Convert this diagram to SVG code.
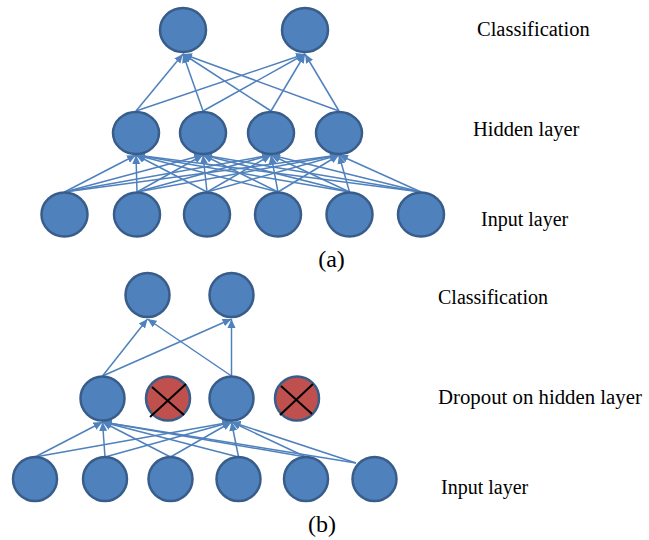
<svg xmlns="http://www.w3.org/2000/svg" width="649" height="540" viewBox="0 0 649 540">
<defs>
<style>
.n{fill:#4f81bd;stroke:#385d8a;stroke-width:2.5}
.d{fill:#c0504d;stroke:#385d8a;stroke-width:2.5}
.x{stroke:#000;stroke-width:2}
.e{stroke:#4f81bd;stroke-width:1.5;fill:none;marker-end:url(#ah)}
.t{font-family:"Liberation Serif","Times New Roman",serif;font-size:20px;fill:#000}
.c{font-size:24px}
</style>
<marker id="ah" markerUnits="userSpaceOnUse" markerWidth="10" markerHeight="10" viewBox="0 0 10 10" refX="9" refY="5" orient="auto">
<path d="M0,1 L9,5 L0,9 Z" fill="#4f81bd"/>
</marker>
</defs>
<rect width="649" height="540" fill="#fff"/>
<g id="connectors">
<line class="e" x1="64.5" y1="192" x2="136" y2="155"/>
<line class="e" x1="64.5" y1="192" x2="203" y2="155"/>
<line class="e" x1="64.5" y1="192" x2="271" y2="155"/>
<line class="e" x1="64.5" y1="192" x2="339" y2="155"/>
<line class="e" x1="137" y1="192" x2="136" y2="155"/>
<line class="e" x1="137" y1="192" x2="203" y2="155"/>
<line class="e" x1="137" y1="192" x2="271" y2="155"/>
<line class="e" x1="137" y1="192" x2="339" y2="155"/>
<line class="e" x1="207" y1="192" x2="136" y2="155"/>
<line class="e" x1="207" y1="192" x2="203" y2="155"/>
<line class="e" x1="207" y1="192" x2="271" y2="155"/>
<line class="e" x1="207" y1="192" x2="339" y2="155"/>
<line class="e" x1="278" y1="192" x2="136" y2="155"/>
<line class="e" x1="278" y1="192" x2="203" y2="155"/>
<line class="e" x1="278" y1="192" x2="271" y2="155"/>
<line class="e" x1="278" y1="192" x2="339" y2="155"/>
<line class="e" x1="349.5" y1="192" x2="136" y2="155"/>
<line class="e" x1="349.5" y1="192" x2="203" y2="155"/>
<line class="e" x1="349.5" y1="192" x2="271" y2="155"/>
<line class="e" x1="349.5" y1="192" x2="339" y2="155"/>
<line class="e" x1="421" y1="192" x2="136" y2="155"/>
<line class="e" x1="421" y1="192" x2="203" y2="155"/>
<line class="e" x1="421" y1="192" x2="271" y2="155"/>
<line class="e" x1="421" y1="192" x2="339" y2="155"/>
<line class="e" x1="136" y1="111" x2="183" y2="54"/>
<line class="e" x1="136" y1="111" x2="305" y2="54"/>
<line class="e" x1="203" y1="111" x2="183" y2="54"/>
<line class="e" x1="203" y1="111" x2="305" y2="54"/>
<line class="e" x1="271" y1="111" x2="183" y2="54"/>
<line class="e" x1="271" y1="111" x2="305" y2="54"/>
<line class="e" x1="339" y1="111" x2="183" y2="54"/>
<line class="e" x1="339" y1="111" x2="305" y2="54"/>
<line class="e" x1="35" y1="457" x2="102.5" y2="422"/>
<line class="e" x1="35" y1="457" x2="231.5" y2="422"/>
<line class="e" x1="105" y1="457" x2="102.5" y2="422"/>
<line class="e" x1="105" y1="457" x2="231.5" y2="422"/>
<line class="e" x1="170.5" y1="457" x2="102.5" y2="422"/>
<line class="e" x1="170.5" y1="457" x2="231.5" y2="422"/>
<line class="e" x1="238.5" y1="457" x2="102.5" y2="422"/>
<line class="e" x1="238.5" y1="457" x2="231.5" y2="422"/>
<line class="e" x1="306" y1="457" x2="102.5" y2="422"/>
<line class="e" x1="306" y1="457" x2="231.5" y2="422"/>
<line class="e" x1="356" y1="463" x2="102.5" y2="422"/>
<line class="e" x1="356" y1="463" x2="231.5" y2="422"/>
<line class="e" x1="102.5" y1="376" x2="147.5" y2="319"/>
<line class="e" x1="102.5" y1="376" x2="231.5" y2="319"/>
<line class="e" x1="231.5" y1="376" x2="147.5" y2="319"/>
<line class="e" x1="231.5" y1="376" x2="231.5" y2="319"/>
</g>
<g id="a-out1"><ellipse class="n" cx="183" cy="30" rx="23" ry="22"/></g>
<g id="a-out2"><ellipse class="n" cx="305" cy="30" rx="23" ry="22"/></g>
<g id="a-h1"><ellipse class="n" cx="136" cy="133" rx="23" ry="21"/></g>
<g id="a-h2"><ellipse class="n" cx="203" cy="133" rx="23" ry="21"/></g>
<g id="a-h3"><ellipse class="n" cx="271" cy="133" rx="23" ry="21"/></g>
<g id="a-h4"><ellipse class="n" cx="339" cy="133" rx="23" ry="21"/></g>
<g id="a-i1"><ellipse class="n" cx="64.5" cy="214.5" rx="23" ry="22"/></g>
<g id="a-i2"><ellipse class="n" cx="137" cy="214.5" rx="23" ry="22"/></g>
<g id="a-i3"><ellipse class="n" cx="207" cy="214.5" rx="23" ry="22"/></g>
<g id="a-i4"><ellipse class="n" cx="278" cy="214.5" rx="23" ry="22"/></g>
<g id="a-i5"><ellipse class="n" cx="349.5" cy="214.5" rx="23" ry="22"/></g>
<g id="a-i6"><ellipse class="n" cx="421" cy="214.5" rx="23" ry="22"/></g>
<g id="b-out1"><circle class="n" cx="147.5" cy="295" r="22"/></g>
<g id="b-out2"><circle class="n" cx="231.5" cy="295" r="22"/></g>
<g id="b-h1"><circle class="n" cx="102.5" cy="398.5" r="22"/></g>
<g id="b-h2"><circle class="d" cx="168" cy="398.5" r="22"/><line class="x" x1="150" y1="417" x2="186" y2="384"/><line class="x" x1="152" y1="387" x2="184" y2="415"/></g>
<g id="b-h3"><circle class="n" cx="231.5" cy="398.5" r="22"/></g>
<g id="b-h4"><circle class="d" cx="297" cy="398.5" r="22"/><line class="x" x1="280" y1="415" x2="313" y2="384"/><line class="x" x1="281" y1="386" x2="312" y2="414"/></g>
<g id="b-i1"><circle class="n" cx="35" cy="479" r="22"/></g>
<g id="b-i2"><circle class="n" cx="105" cy="479" r="22"/></g>
<g id="b-i3"><circle class="n" cx="170.5" cy="479" r="22"/></g>
<g id="b-i4"><circle class="n" cx="238.5" cy="479" r="22"/></g>
<g id="b-i5"><circle class="n" cx="306" cy="479" r="22"/></g>
<g id="b-i6"><circle class="n" cx="374.5" cy="479" r="22"/></g>
<g id="labels">
<text class="t" x="477" y="36" style="font-size:20.5px">Classification</text>
<text class="t" x="473" y="136" style="font-size:20.5px">Hidden layer</text>
<text class="t" x="481" y="226">Input layer</text>
<text class="t c" x="331.5" y="267" text-anchor="middle">(a)</text>
<text class="t" x="438" y="304">Classification</text>
<text class="t" x="438" y="404" style="font-size:20.8px">Dropout on hidden layer</text>
<text class="t" x="441" y="494">Input layer</text>
<text class="t c" x="322" y="532" text-anchor="middle">(b)</text>
</g>
</svg>
